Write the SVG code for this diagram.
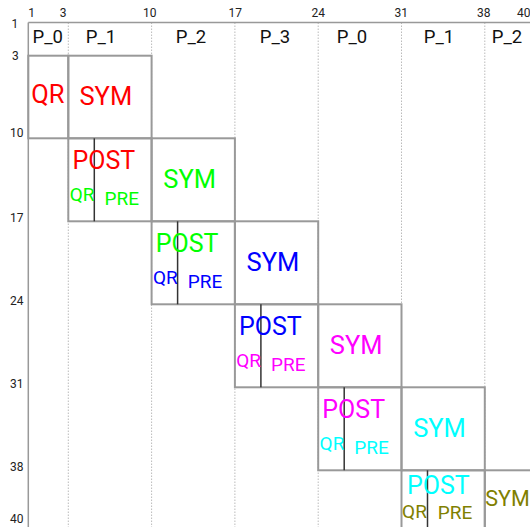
<svg xmlns="http://www.w3.org/2000/svg" width="530" height="527" viewBox="0 0 530 527">
<style>
text{font-family:Roboto,"Liberation Sans",sans-serif;}
.tick{font-size:12px;fill:#222;}
.hdr{font-size:18.5px;fill:#111;text-anchor:middle;}
.grid{stroke:#bbb;stroke-width:1;stroke-dasharray:1.5 1.5;fill:none;}
.frame{stroke:#999;stroke-width:1.5;fill:none;}
.box{stroke:#999;stroke-width:2;fill:none;}
.div{stroke:#333;stroke-width:1.5;}
.big{font-size:25.5px;text-anchor:middle;}
.post{font-size:25px;text-anchor:middle;}
.small{font-size:19px;text-anchor:middle;}
</style>
<rect width="530" height="527" fill="#fff"/>
<g id="axes">
<text class="tick" x="28.3" y="16.7">1</text>
<text class="tick" x="59.8" y="16.7">3</text>
<text class="tick" x="143" y="16.7">10</text>
<text class="tick" x="228.5" y="16.7">17</text>
<text class="tick" x="311.5" y="16.7">24</text>
<text class="tick" x="394.5" y="16.7">31</text>
<text class="tick" x="477" y="16.7">38</text>
<text class="tick" x="517" y="16.7">40</text>
<text class="tick" x="11.5" y="28.3">1</text>
<text class="tick" x="12" y="60">3</text>
<text class="tick" x="10" y="137">10</text>
<text class="tick" x="10" y="221.5">17</text>
<text class="tick" x="10" y="304.5">24</text>
<text class="tick" x="10" y="387.5">31</text>
<text class="tick" x="10" y="470.5">38</text>
<text class="tick" x="10" y="523">40</text>
</g>
<g id="grid">
<line class="grid" x1="68.3" y1="22.5" x2="68.3" y2="527"/>
<line class="grid" x1="151.6" y1="22.5" x2="151.6" y2="527"/>
<line class="grid" x1="234.9" y1="22.5" x2="234.9" y2="527"/>
<line class="grid" x1="318.2" y1="22.5" x2="318.2" y2="527"/>
<line class="grid" x1="401.5" y1="22.5" x2="401.5" y2="527"/>
<line class="grid" x1="484.8" y1="22.5" x2="484.8" y2="527"/>
<line class="frame" x1="28.3" y1="22.5" x2="530" y2="22.5"/>
<line class="frame" x1="28.3" y1="22.5" x2="28.3" y2="527"/>
</g>
<g id="header">
<text class="hdr" x="47.8" y="43.3">P_0</text>
<text class="hdr" x="101" y="43.3">P_1</text>
<text class="hdr" x="191" y="43.3">P_2</text>
<text class="hdr" x="275" y="43.3">P_3</text>
<text class="hdr" x="352" y="43.3">P_0</text>
<text class="hdr" x="439" y="43.3">P_1</text>
<text class="hdr" x="507" y="43.3">P_2</text>
</g>
<g id="qr-red">
<rect class="box" x="28.3" y="55.7" width="40" height="82.6"/>
<text class="big" x="47.8" y="103.3" fill="#f00">QR</text>
</g>
<g id="sym-red">
<rect class="box" x="68.3" y="55.7" width="83.3" height="82.6"/>
<text class="big" x="105.8" y="105" fill="#f00">SYM</text>
</g>
<g id="post-red">
<rect class="box" x="68.3" y="138.3" width="83.3" height="83"/>
<line class="div" x1="94.3" y1="138.3" x2="94.3" y2="221.3"/>
<text class="post" x="103.8" y="168.8" fill="#f00">POST</text>
<text class="small" x="82.1" y="201.3" fill="#0f0">QR</text>
<text class="small" x="121.7" y="204.5" fill="#0f0">PRE</text>
</g>
<g id="sym-green">
<rect class="box" x="151.6" y="138.3" width="83.3" height="83"/>
<text class="big" x="189.6" y="188" fill="#0f0">SYM</text>
</g>
<g id="post-green">
<rect class="box" x="151.6" y="221.3" width="83.3" height="83"/>
<line class="div" x1="177.6" y1="221.3" x2="177.6" y2="304.3"/>
<text class="post" x="187.1" y="251.8" fill="#0f0">POST</text>
<text class="small" x="165.4" y="284.3" fill="#00f">QR</text>
<text class="small" x="205" y="287.5" fill="#00f">PRE</text>
</g>
<g id="sym-blue">
<rect class="box" x="234.9" y="221.3" width="83.3" height="83"/>
<text class="big" x="272.9" y="271" fill="#00f">SYM</text>
</g>
<g id="post-blue">
<rect class="box" x="234.9" y="304.3" width="83.3" height="83"/>
<line class="div" x1="260.9" y1="304.3" x2="260.9" y2="387.3"/>
<text class="post" x="270.4" y="334.8" fill="#00f">POST</text>
<text class="small" x="248.7" y="367.3" fill="#f0f">QR</text>
<text class="small" x="288.3" y="370.5" fill="#f0f">PRE</text>
</g>
<g id="sym-magenta">
<rect class="box" x="318.2" y="304.3" width="83.3" height="83"/>
<text class="big" x="356.2" y="354" fill="#f0f">SYM</text>
</g>
<g id="post-magenta">
<rect class="box" x="318.2" y="387.3" width="83.3" height="83"/>
<line class="div" x1="344.2" y1="387.3" x2="344.2" y2="470.3"/>
<text class="post" x="353.7" y="417.8" fill="#f0f">POST</text>
<text class="small" x="332" y="450.3" fill="#0ff">QR</text>
<text class="small" x="371.6" y="453.5" fill="#0ff">PRE</text>
</g>
<g id="sym-cyan">
<rect class="box" x="401.5" y="387.3" width="83.3" height="83"/>
<text class="big" x="439.5" y="437" fill="#0ff">SYM</text>
</g>
<g id="post-cyan">
<rect class="box" x="401.5" y="470.3" width="83.3" height="83"/>
<line class="div" x1="427.5" y1="470.3" x2="427.5" y2="553.3"/>
<text class="post" x="438.3" y="493.5" fill="#0ff">POST</text>
<text class="small" x="414.5" y="518" fill="#808000">QR</text>
<text class="small" x="455" y="519.3" fill="#808000">PRE</text>
</g>
<g id="sym-olive">
<rect class="box" x="484.8" y="470.3" width="60" height="83"/>
<text x="507.5" y="505.7" fill="#808000" style="font-size:21.5px;text-anchor:middle">SYM</text>
</g>
</svg>
